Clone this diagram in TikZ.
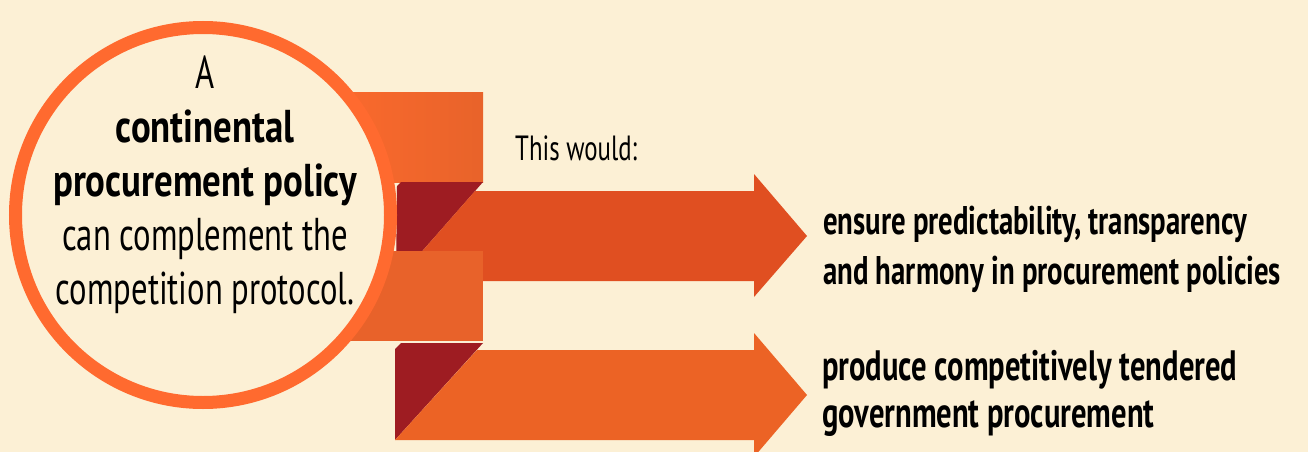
\documentclass[tikz,border=0pt]{standalone}
\usepackage{fontspec}
\setmainfont{PT Sans}[FakeStretch=0.71]
\newfontfamily\narrowfont{PT Sans}[FakeStretch=0.72]
\newfontfamily\hubfont{PT Sans}[FakeStretch=0.8]

\definecolor{cream}{HTML}{FCF0D5}
\definecolor{ring}{HTML}{FF6A2F}
\definecolor{ribbonA}{HTML}{FF6B2E}
\definecolor{ribbonB}{HTML}{E8632A}
\definecolor{ribbonC}{HTML}{E8622A}
\definecolor{fold}{HTML}{9E1C22}
\definecolor{arrowA}{HTML}{E04F21}
\definecolor{arrowB}{HTML}{EC6325}

\newcommand{\hubbold}[1]{{\hubfont\bfseries #1}}

\begin{document}
\begin{tikzpicture}[x=1pt,y=-1pt]

      \clip (0,0) rectangle (1308,452);
      \fill[cream] (0,0) rectangle (1308,452);

      % upper ribbon
      \fill[left color=ribbonA, right color=ribbonB] (300,92) rectangle (483,182);
      \fill[fold] (397,186) -- (401,182) -- (483,182) -- (396,281) -- cycle;
      \fill[arrowA] (475,191) -- (754,191) -- (754,174) -- (807,236)
        -- (754,297) -- (754,281) -- (396,281) -- cycle;

      % lower ribbon
      \fill[ribbonC] (300,251) rectangle (483,341);
      \fill[fold] (395,349) -- (401,343) -- (483,343) -- (395,440) -- cycle;
      \fill[arrowB] (477,350) -- (754,350) -- (754,333) -- (807,395)
        -- (754,457) -- (754,440) -- (395,440) -- cycle;

      \node (hub) [circle, draw=ring, line width=13pt, fill=cream,
        minimum size=375pt, inner sep=0pt] at (203,215) {};

      \begin{scope}[every node/.style={inner sep=0pt}]
        \node (hubtext) [align=center, font=\fontsize{46}{54}\selectfont]
          at (205,185) {A\\ \hubbold{continental}\\ \hubbold{procurement policy}\\
          can complement the\\ competition protocol.};
        \node (intro) [anchor=base west, font=\fontsize{35}{40}\selectfont]
          at (515,160) {This would:};
      \end{scope}

      \begin{scope}[every node/.style={inner sep=0pt,align=left,anchor=north west,
          font=\fontsize{40}{50}\narrowfont\bfseries\selectfont}]
        \node (goal1) at (823,206) {ensure predictability, transparency\\
          and harmony in procurement policies};
        \node (goal2) [font=\fontsize{42.5}{47}\narrowfont\bfseries\selectfont]
          at (822,350) {produce competitively tendered\\
          government procurement};
      \end{scope}

    \end{tikzpicture}
\end{document}
